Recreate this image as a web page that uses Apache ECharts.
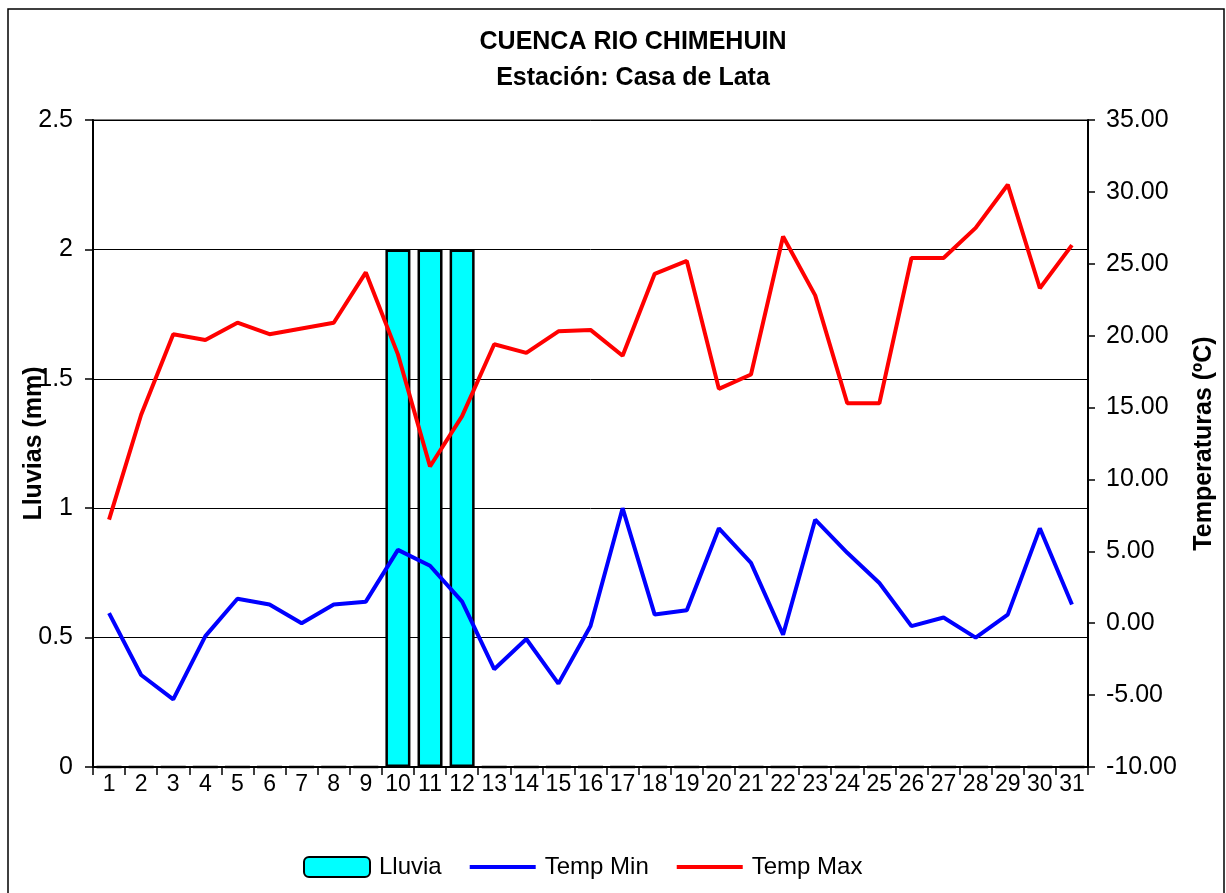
<!DOCTYPE html>
<html>
<head>
<meta charset="utf-8">
<title>Cuenca Rio Chimehuin</title>
<script src="https://cdn.jsdelivr.net/npm/echarts@6/dist/echarts.min.js"></script>
<style>
  html, body { margin: 0; padding: 0; background: #fff; }
  #chart { width: 1226px; height: 893px; }
</style>
</head>
<body>
<div id="chart"></div>
<script>
const days = ["1","2","3","4","5","6","7","8","9","10","11","12","13","14","15","16",
  "17","18","19","20","21","22","23","24","25","26","27","28","29","30","31"];

// mm
const lluvia = [0,0,0,0,0,0,0,0,0,2,2,2,0,0,0,0,0,0,0,0,0,0,0,0,0,0,0,0,0,0,0];

// ºC
const tempMin = [0.7,-3.6,-5.3,-0.9,1.7,1.3,0.0,1.3,1.5,5.1,4.0,1.5,-3.2,-1.1,-4.2,-0.2,
  8.0,0.6,0.9,6.6,4.2,-0.8,7.2,4.9,2.8,-0.2,0.4,-1.0,0.6,6.6,1.3];
const tempMax = [7.2,14.5,20.1,19.7,20.9,20.1,20.5,20.9,24.4,18.7,10.9,14.4,19.4,18.8,20.3,20.4,
  18.6,24.3,25.2,16.3,17.3,26.9,22.8,15.3,15.3,25.4,25.4,27.5,30.5,23.3,26.3];

const FONT = "'Liberation Sans', Arial, sans-serif";
// thin bar used as legend icon for the line series
const LINE_ICON = "path://M0,0 L66,0 L66,4 L0,4 Z";

const chart = echarts.init(document.getElementById("chart"));

const option = {
  animation: false,
  textStyle: { fontFamily: FONT },
  graphic: [
    {
      type: "rect",
      shape: { x: 8, y: 9, width: 1216, height: 900 },
      style: { fill: "none", stroke: "#000", lineWidth: 1.5 },
      silent: true,
    },
  ],
  title: {
    text: "CUENCA RIO CHIMEHUIN\nEstación: Casa de Lata",
    left: 628,
    top: 19,
    textAlign: "center",
    textStyle: {
      fontFamily: FONT,
      fontSize: 25,
      fontWeight: "bold",
      color: "#000",
      lineHeight: 36,
    },
  },
  legend: {
    left: 298,
    top: 850,
    itemWidth: 66,
    itemHeight: 20,
    itemGap: 28,
    textStyle: { fontFamily: FONT, fontSize: 24, color: "#000", padding: [0, 0, 0, 4] },
    data: [
      { name: "Lluvia" },
      { name: "Temp Min", icon: LINE_ICON },
      { name: "Temp Max", icon: LINE_ICON },
    ],
  },
  grid: {
    left: 93,
    right: 138,
    top: 120,
    bottom: 126,
    outerBoundsMode: "none",
    containLabel: false,
    show: true,
    borderColor: "#808080",
    borderWidth: 2,
  },
  xAxis: {
    type: "category",
    data: days,
    boundaryGap: true,
    axisLine: { lineStyle: { color: "#000", width: 2 } },
    axisTick: { show: true, length: 8, lineStyle: { color: "#000", width: 1.5 } },
    axisLabel: { fontFamily: FONT, fontSize: 23, color: "#000", margin: 6, interval: 0 },
  },
  yAxis: [
    {
      type: "value",
      min: 0,
      max: 2.5,
      interval: 0.5,
      position: "left",
      name: "Lluvias (mm)",
      nameLocation: "middle",
      nameRotate: 90,
      nameGap: 46,
      nameMoveOverlap: false,
      nameTextStyle: { fontFamily: FONT, fontSize: 25, fontWeight: "bold", color: "#000" },
      axisLine: { show: true, lineStyle: { color: "#000", width: 2 } },
      axisTick: { show: true, length: 8, lineStyle: { color: "#000", width: 1.5 } },
      axisLabel: { fontFamily: FONT, fontSize: 25, color: "#000", margin: 20 },
      splitLine: { show: true, lineStyle: { color: "#000", width: 1 } },
    },
    {
      type: "value",
      min: -10,
      max: 35,
      interval: 5,
      position: "right",
      name: "Temperaturas (ºC)",
      nameLocation: "middle",
      nameRotate: 90,
      nameGap: 104,
      nameMoveOverlap: false,
      nameTextStyle: { fontFamily: FONT, fontSize: 25, fontWeight: "bold", color: "#000" },
      axisLine: { show: true, lineStyle: { color: "#000", width: 2 } },
      axisTick: { show: true, length: 7, lineStyle: { color: "#000", width: 1.5 } },
      axisLabel: {
        fontFamily: FONT,
        fontSize: 25,
        color: "#000",
        margin: 18,
        formatter: (v) => v.toFixed(2),
      },
      splitLine: { show: false },
    },
  ],
  series: [
    {
      name: "Lluvia",
      type: "bar",
      yAxisIndex: 0,
      data: lluvia,
      barWidth: 25,
      itemStyle: { color: "#00FFFF", borderColor: "#000", borderWidth: 2.5 },
    },
    {
      name: "Temp Min",
      type: "line",
      yAxisIndex: 1,
      data: tempMin,
      symbol: "none",
      lineStyle: { color: "#0000FF", width: 4 },
      itemStyle: { color: "#0000FF" },
    },
    {
      name: "Temp Max",
      type: "line",
      yAxisIndex: 1,
      data: tempMax,
      symbol: "none",
      lineStyle: { color: "#FF0000", width: 4 },
      itemStyle: { color: "#FF0000" },
    },
  ],
};

chart.setOption(option);
</script>
</body>
</html>
